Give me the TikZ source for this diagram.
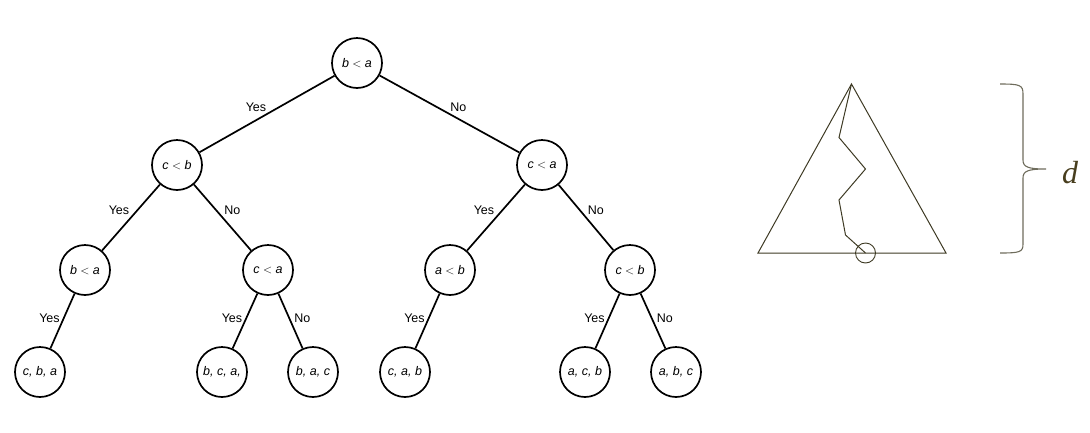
\documentclass[tikz,border=0pt]{standalone}
\usepackage{fontspec}
\setmainfont{Liberation Sans}
\newfontfamily\serifd{Liberation Serif}
\definecolor{olive}{RGB}{62,58,36}
\definecolor{bracecol}{RGB}{110,108,92}
\definecolor{dcol}{RGB}{72,62,30}
\begin{document}
\begin{tikzpicture}[x=1pt,y=-1pt,
  tnode/.style={circle,draw,line width=1.7pt,minimum size=50pt,inner sep=0pt,
    font=\fontsize{12.5}{14}\selectfont\itshape},
  edge/.style={line width=1.7pt},
  lbl/.style={font=\fontsize{12.5}{14}\selectfont,inner sep=1pt},
  tri/.style={draw=olive,line width=1pt,line join=miter}]
\useasboundingbox (0,0) rectangle (1090,432);
\begin{scope}
\clip (0,0) rectangle (703,397);
\node[tnode] (r) at (357,63) {$\mathit{b} < \mathit{a}$};
\node[tnode] (l) at (177,165) {$\mathit{c} < \mathit{b}$};
\node[tnode] (rr) at (542,165) {$\mathit{c} < \mathit{a}$};
\node[tnode] (ll) at (85,270) {$\mathit{b} < \mathit{a}$};
\node[tnode] (lr) at (268,270) {$\mathit{c} < \mathit{a}$};
\node[tnode] (rl) at (450,270) {$\mathit{a} < \mathit{b}$};
\node[tnode] (rrr) at (630,270) {$\mathit{c} < \mathit{b}$};
\node[tnode] (f1) at (40,372) {c, b, a};
\node[tnode] (f2) at (222,372) {b, c, a,};
\node[tnode] (f3) at (313,372) {b, a, c};
\node[tnode] (f4) at (405,372) {c, a, b};
\node[tnode] (f5) at (585,372) {a, c, b};
\node[tnode] (f6) at (676,372) {a, b, c};
\draw[edge] (r) -- node[lbl,above left,pos=.5,xshift=1pt,yshift=1pt] {Yes} (l);
\draw[edge] (r) -- node[lbl,above right,pos=.5,xshift=-1pt,yshift=1pt] {No} (rr);
\draw[edge] (l) -- node[lbl,above left,pos=.5,yshift=1pt] {Yes} (ll);
\draw[edge] (l) -- node[lbl,above right,pos=.5,yshift=1pt] {No} (lr);
\draw[edge] (rr) -- node[lbl,above left,pos=.5,yshift=1pt] {Yes} (rl);
\draw[edge] (rr) -- node[lbl,above right,pos=.5,yshift=1pt] {No} (rrr);
\draw[edge] (ll) -- node[lbl,left,pos=.5,xshift=-1pt,yshift=3pt] {Yes} (f1);
\draw[edge] (lr) -- node[lbl,left,pos=.5,xshift=-1pt,yshift=3pt] {Yes} (f2);
\draw[edge] (lr) -- node[lbl,right,pos=.5,xshift=2pt,yshift=3pt] {No} (f3);
\draw[edge] (rl) -- node[lbl,left,pos=.5,xshift=-1pt,yshift=3pt] {Yes} (f4);
\draw[edge] (rrr) -- node[lbl,left,pos=.5,xshift=-1pt,yshift=3pt] {Yes} (f5);
\draw[edge] (rrr) -- node[lbl,right,pos=.5,xshift=2pt,yshift=3pt] {No} (f6);
\end{scope}
% right figure
\coordinate (apex) at (851.5,84);
\coordinate (bl) at (758,253);
\coordinate (br) at (946,253);
\coordinate (p1) at (839,137.5);
\coordinate (p2) at (865.5,169);
\coordinate (p3) at (839,200);
\coordinate (p4) at (845.5,235);
\coordinate (leaf) at (865.5,253);
\draw[tri] (apex) -- (bl) -- (br) -- cycle;
\draw[tri] (apex) -- (p1) -- (p2) -- (p3) -- (p4) -- (leaf);
\draw[draw=olive,line width=0.9pt] (leaf) circle[radius=10];
\coordinate (bt) at (1000,84);
\coordinate (bb) at (1000,253);
\coordinate (tip) at (1046,169);
\draw[bracecol,line width=1.1pt] (bt) .. controls (1020,84) and (1023,85) .. (1023,94)
  -- (1023,160) .. controls (1023,167) and (1028,169) .. (tip)
  .. controls (1028,169) and (1023,171) .. (1023,178)
  -- (1023,244) .. controls (1023,252) and (1020,253) .. (bb);
\node[font=\serifd\itshape\fontsize{32}{36}\selectfont,text=dcol] (d) at (1070,173) {d};
\end{tikzpicture}
\end{document}
